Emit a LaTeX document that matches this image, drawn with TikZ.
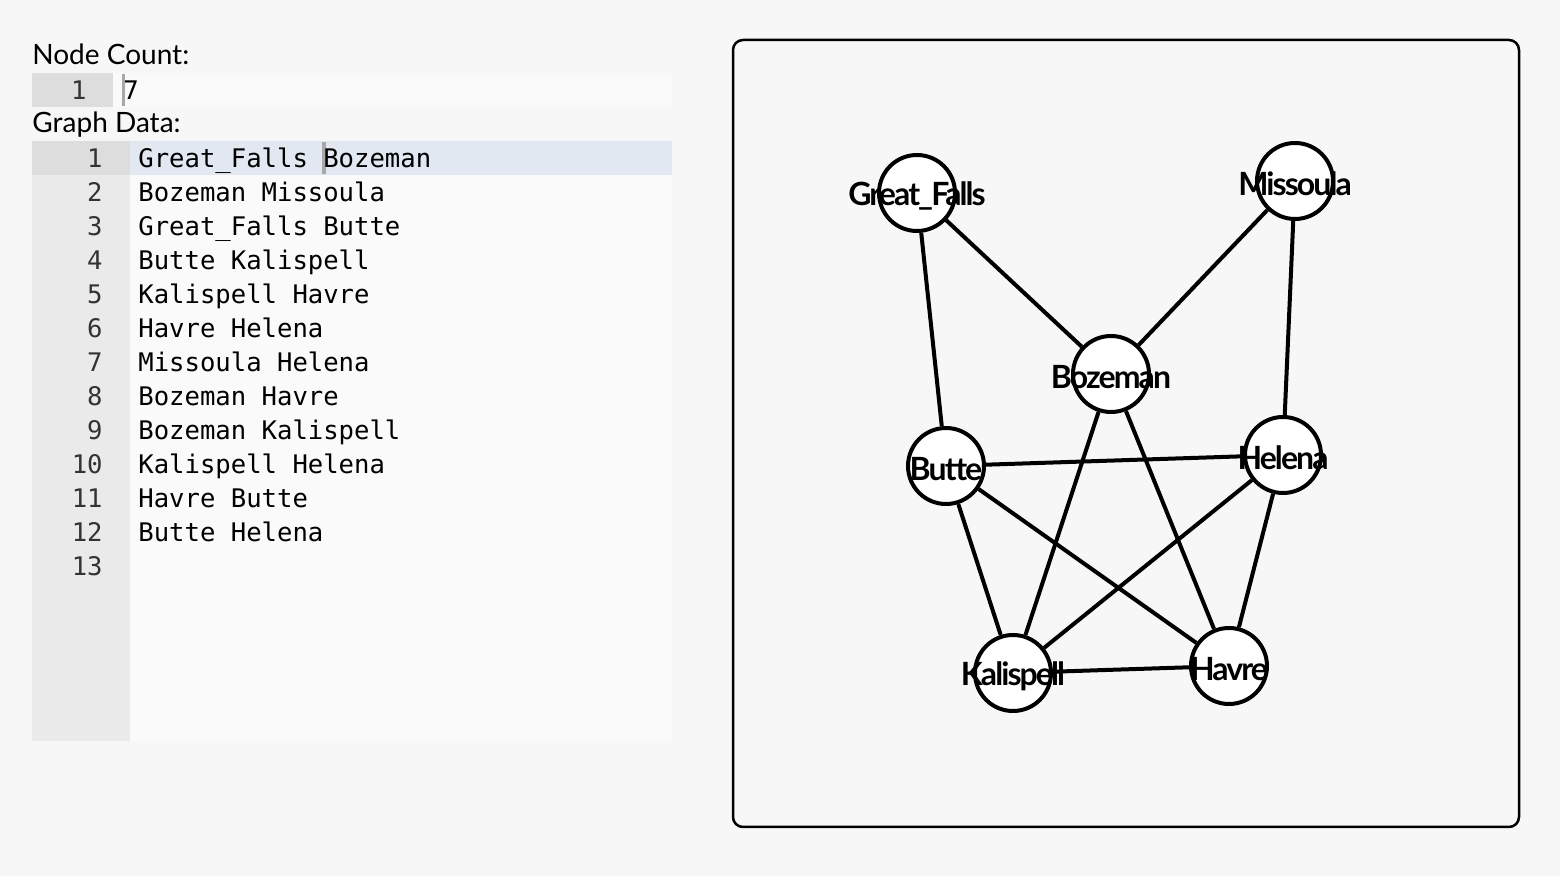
\documentclass[tikz,border=0pt]{standalone}
\usepackage{fontspec}
\setmainfont{Lato}
\newfontfamily\codefont{DejaVu Sans Mono}
\newfontfamily\cityfont[LetterSpace=-6]{Lato}
\definecolor{pagebg}{HTML}{F7F7F7}
\definecolor{editorbg}{HTML}{FAFAFA}
\definecolor{gutterbg}{HTML}{EAEAEA}
\definecolor{gutteract}{HTML}{DDDDDD}
\definecolor{activeline}{HTML}{E1E8F1}
\definecolor{cursorc}{HTML}{A8A8A8}
\definecolor{numc}{HTML}{333333}
\tikzset{
  heading/.style={anchor=base west, inner sep=0pt, font=\fontsize{14pt}{16pt}\selectfont},
  codetxt/.style={anchor=base west, inner sep=0pt, font=\codefont\fontsize{12.8pt}{15pt}\selectfont},
  lineno/.style={anchor=base east, inner sep=0pt, text=numc, font=\codefont\fontsize{12.8pt}{15pt}\selectfont},
  city/.style={circle, draw, fill=white, line width=2pt, minimum size=38pt, inner sep=0pt},
  citylbl/.style={inner sep=0pt, yshift=-1.5pt, font=\cityfont\bfseries\fontsize{16pt}{18pt}\selectfont},
  road/.style={line width=2pt},
}
\begin{document}
\begin{tikzpicture}[x=0.5pt,y=-0.5pt]
\useasboundingbox (0,0) rectangle (1560,876);
\fill[pagebg] (0,0) rectangle (1560,876);

% node count editor
\node[heading] (nclabel) at (32,65) {Node Count:};
\fill[editorbg] (113,73) rectangle (672,107);
\fill[gutteract] (32,73) rectangle (113,107);
\node[lineno] (ncnum) at (87,100) {1};
\fill[cursorc] (122,74) rectangle (125,106);
\node[codetxt] (ncval) at (123,100) {7};

% graph data editor
\node[heading] (gdlabel) at (32,133) {Graph Data:};
\fill[editorbg] (130,141) rectangle (672,741);
\fill[gutterbg] (32,141) rectangle (130,741);
\fill[gutteract] (32,141) rectangle (130,175);
\fill[activeline] (130,141) rectangle (672,175);
\fill[cursorc] (322,142) rectangle (326,174);
\foreach \i/\t in {1/Great\_Falls Bozeman, 2/Bozeman Missoula, 3/Great\_Falls Butte,
  4/Butte Kalispell, 5/Kalispell Havre, 6/Havre Helena, 7/Missoula Helena,
  8/Bozeman Havre, 9/Bozeman Kalispell, 10/Kalispell Helena, 11/Havre Butte,
  12/Butte Helena, 13/}{
  \node[lineno] (ln\i) at (103,{168+34*(\i-1)}) {\i};
  \node[codetxt] (tx\i) at (138,{168+34*(\i-1)}) {\t};
}

% graph panel
\draw[line width=1.25pt, rounded corners=5pt] (733,40) rectangle (1519,827);

\node[city] (gf) at (917,193) {};
\node[city] (ms) at (1295,181) {};
\node[city] (bz) at (1111,374) {};
\node[city] (bt) at (946,466) {};
\node[city] (hl) at (1283,455) {};
\node[city] (ks) at (1013,673) {};
\node[city] (hv) at (1229,666) {};

\foreach \a/\b in {gf/bz, bz/ms, gf/bt, bt/ks, ks/hv, hv/hl, ms/hl,
  bz/hv, bz/ks, ks/hl, hv/bt, bt/hl}
  \draw[road] (\a) -- (\b);

\node[citylbl] (gft) at (gf) {Great\_Falls};
\node[citylbl] (mst) at (ms) {Missoula};
\node[citylbl] (bzt) at (bz) {Bozeman};
\node[citylbl] (btt) at (bt) {Butte};
\node[citylbl] (hlt) at (hl) {Helena};
\node[citylbl] (kst) at (ks) {Kalispell};
\node[citylbl] (hvt) at (hv) {Havre};
\end{tikzpicture}
\end{document}
